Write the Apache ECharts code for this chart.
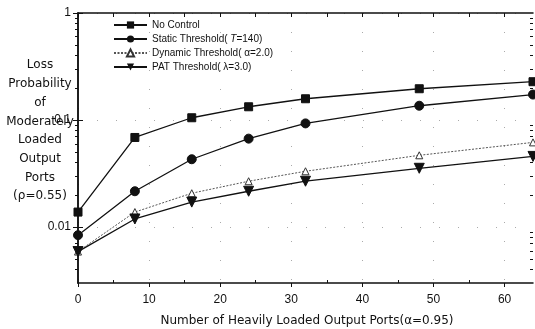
<!DOCTYPE html>
<html><head><meta charset="utf-8">
<script src="https://cdn.jsdelivr.net/npm/echarts@6/dist/echarts.min.js"></script>
<style>html,body{margin:0;padding:0;background:#fff}#c{width:535px;height:329px}</style>
</head><body><div id="c"></div>
<script>
const xValues = [0, 8, 16, 24, 32, 48, 64];
const noControl = [0.0138, 0.0687, 0.105, 0.133, 0.158, 0.196, 0.228];
const staticThreshold = [0.0084, 0.0216, 0.043, 0.067, 0.093, 0.136, 0.173];
const dynamicThreshold = [0.0059, 0.0138, 0.0207, 0.0268, 0.0332, 0.0468, 0.0618];
const patThreshold = [0.0059, 0.0119, 0.0171, 0.0216, 0.0268, 0.0354, 0.0457];
const seriesNames = ['No Control', 'Static Threshold( T=140)', 'Dynamic Threshold( α=2.0)', 'PAT Threshold( λ=3.0)'];
const xMajorTicks = [0, 10, 20, 30, 40, 50, 60];
const xMinorTicks = [5, 15, 25, 35, 45, 55];
const xTopTicks = [0, 5, 10, 15, 20, 25, 30, 35, 40, 45, 50, 55, 60];
const yMajorTicks = [0.01, 0.1, 1];
const yMinorTicks = [0.004, 0.005, 0.006, 0.007, 0.008, 0.009, 0.02, 0.03, 0.04, 0.05, 0.06, 0.07, 0.08, 0.09, 0.2, 0.3, 0.4, 0.5, 0.6, 0.7, 0.8, 0.9];
const yLabelText = {0.01: '0.01', 0.1: '0.1', 1: '1'};
const yTitle = 'Loss\nProbability\nof\nModerately\nLoaded\nOutput\nPorts\n(ρ=0.55)';
const xTitle = 'Number of Heavily Loaded Output Ports(α=0.95)';

const pair = arr => xValues.map((x, i) => [x, arr[i]]);
const chart = echarts.init(document.getElementById('c'));
const X0 = 0, X1 = 64, Y0 = 0.003, Y1 = 1;
const black = '#111';
function yAx(pos, ticks, len, inside, line, labels) {
  return {
    type: 'log', logBase: 10, min: Y0, max: Y1, position: pos, gridIndex: 0,
    axisLine: {show: line, lineStyle: {color: black, width: 1.5}},
    axisTick: {show: true, inside: inside, length: len, customValues: ticks, lineStyle: {color: black, width: 1}},
    axisLabel: labels ? {show: true, customValues: yMajorTicks, formatter: v => yLabelText[v] || yLabelText[+(+v).toPrecision(3)] || '', color: black, fontFamily: 'Liberation Sans', fontSize: 12, margin: 7} : {show: false},
    splitLine: {show: labels, lineStyle: {color: '#aaa', type: [1, 18], width: 1}},
    minorTick: {show: false}, minorSplitLine: {show: false}
  };
}
function xAx(pos, ticks, len, inside, line, labels, split) {
  return {
    type: 'value', min: X0, max: X1, position: pos, gridIndex: 0,
    axisLine: {show: line, onZero: false, lineStyle: {color: black, width: 1.5}},
    axisTick: {show: true, inside: inside, length: len, customValues: ticks, lineStyle: {color: black, width: 1}},
    axisLabel: labels ? {show: true, customValues: xMajorTicks, color: black, fontFamily: 'Liberation Sans', fontSize: 12, margin: 11} : {show: false},
    splitLine: {show: !!split, lineStyle: {color: '#aaa', type: [1, 18], width: 1}}
  };
}
const mk = (name, data, symbol, size, opts) => Object.assign({
  name, type: 'line', data: pair(data), xAxisIndex: 0, yAxisIndex: 0,
  symbol, symbolSize: size, showAllSymbol: true, animation: false,
  lineStyle: {color: black, width: 1.3},
  itemStyle: {color: black, borderColor: black}
}, opts || {});
chart.setOption({
  animation: false,
  backgroundColor: '#fff',
  grid: {left: 78, right: 2, top: 13, bottom: 46, containLabel: false},
  xAxis: [
    xAx('bottom', xMajorTicks, 4, false, true, true, true),
    xAx('top', xTopTicks, 4, true, true, false, false),
    xAx('bottom', xMinorTicks, 3, true, false, false, false)
  ],
  yAxis: [
    yAx('left', yMajorTicks, 5, true, true, true),
    yAx('left', yMinorTicks, 3, false, false, false),
    yAx('right', yMajorTicks, 5, true, true, false),
    yAx('right', yMinorTicks, 3, true, false, false)
  ],
  legend: {
    orient: 'vertical', left: 113, top: 19, padding: 0, itemWidth: 33, itemHeight: 9, itemGap: 2,
    data: seriesNames,
    textStyle: {color: black, fontFamily: 'Liberation Sans', fontSize: 10, lineHeight: 12,
      rich: {i: {fontStyle: 'italic', fontFamily: 'Liberation Sans', fontSize: 10}}},
    formatter: n => n.indexOf('T=') >= 0 ? n.replace('T=', '{i|T}=') : n
  },
  series: [
    mk(seriesNames[0], noControl, 'rect', 8),
    mk(seriesNames[1], staticThreshold, 'circle', 9),
    mk(seriesNames[2], dynamicThreshold, 'triangle', 7, {
      lineStyle: {color: '#555', width: 1, type: [2, 1.5]},
      itemStyle: {color: '#fff', borderColor: '#333', borderWidth: 1}
    }),
    mk(seriesNames[3], patThreshold, 'triangle', 10, {symbolRotate: 180})
  ],
  graphic: [
    {type: 'text', style: {x: 40, y: 56, text: yTitle, align: 'center', verticalAlign: 'top', fill: black, font: '12px "DejaVu Sans"', lineHeight: 18.7}, z: 10},
    {type: 'text', style: {x: 307, y: 321, text: xTitle, align: 'center', verticalAlign: 'middle', fill: black, font: '12px "DejaVu Sans"'}, z: 10}
  ]
});
</script></body></html>
